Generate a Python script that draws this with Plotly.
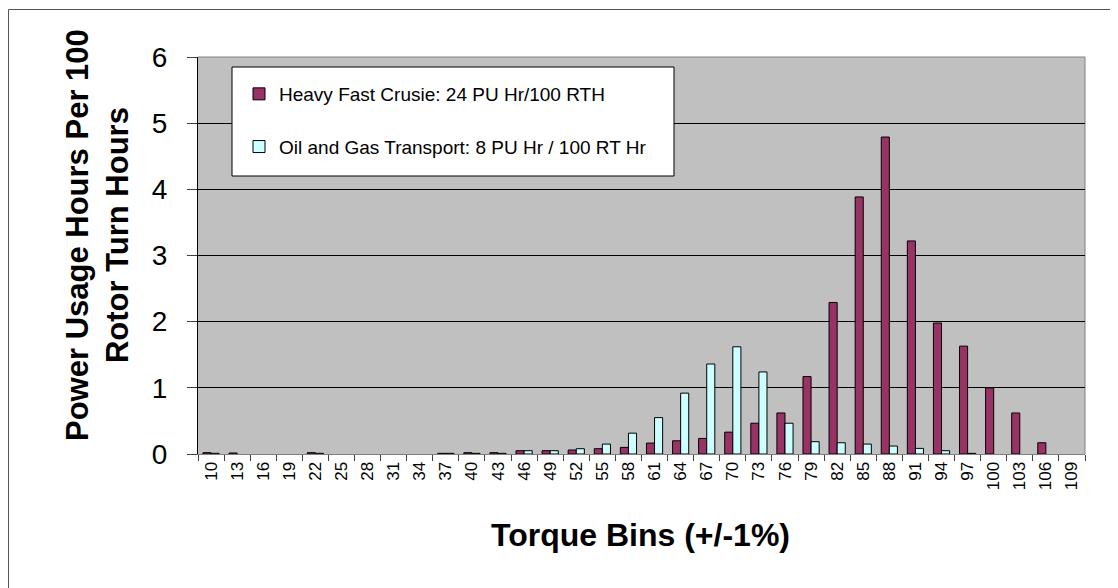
import plotly.graph_objects as go

# ---- data ----
bins = ["10", "13", "16", "19", "22", "25", "28", "31", "34", "37", "40", "43",
        "46", "49", "52", "55", "58", "61", "64", "67", "70", "73", "76", "79",
        "82", "85", "88", "91", "94", "97", "100", "103", "106", "109"]

heavy_name = "Heavy Fast Crusie: 24 PU Hr/100 RTH"
heavy = [0.02, 0.015, None, None, 0.02, None, None, None, None, 0.01, 0.02, 0.02,
         0.05, 0.05, 0.06, 0.08, 0.10, 0.165, 0.20, 0.235, 0.33, 0.465, 0.62, 1.17,
         2.29, 3.885, 4.79, 3.22, 1.98, 1.63, 1.00, 0.62, 0.17, None]

oil_name = "Oil and Gas Transport: 8 PU Hr / 100 RT Hr"
oil = [0.01, None, None, None, 0.01, None, None, None, None, 0.01, 0.01, 0.01,
       0.05, 0.05, 0.08, 0.15, 0.315, 0.55, 0.92, 1.36, 1.62, 1.24, 0.465, 0.186,
       0.17, 0.15, 0.12, 0.085, 0.05, 0.01, None, None, None, None]

y_ticks = [0, 1, 2, 3, 4, 5, 6]

FONT = "Liberation Sans, Arial, sans-serif"

fig = go.Figure()
fig.add_bar(x=bins, y=heavy, name=heavy_name, legendgroup="a",
            marker=dict(color="#993366", line=dict(color="black", width=1)))
fig.add_bar(x=bins, y=oil, name=oil_name, legendgroup="b",
            marker=dict(color="#CCFFFF", line=dict(color="black", width=1)))

OFF = 8  # page body margin
W, H = 1118 - OFF, 588 - OFF
L, R, T, B = 198 - OFF, 33, 57 - OFF, 134
pw, ph = W - L - R, H - T - B


def px(x):  # page pixel -> paper
    return (x - OFF - L) / pw


def py(y):
    return (H + OFF - B - y) / ph


fig.update_layout(
    width=W, height=H,
    margin=dict(l=L, r=R, t=T, b=B, autoexpand=False),
    paper_bgcolor="white",
    plot_bgcolor="#C0C0C0",
    barmode="group",
    bargap=0.38,
    bargroupgap=0,
    font=dict(family=FONT, color="black"),
    showlegend=True,
    legend=dict(x=px(239), y=py(75), xanchor="left", yanchor="top",
                bgcolor="rgba(0,0,0,0)", borderwidth=0,
                font=dict(size=19, family=FONT, color="black"),
                tracegroupgap=25, traceorder="grouped"),
    xaxis=dict(type="category", tickangle=-90, tickfont=dict(size=17),
               ticks="outside", ticklen=6, tickcolor="#404040",
               tickson="boundaries", showline=True, linecolor="#808080",
               linewidth=1, showgrid=False, zeroline=False, fixedrange=True),
    yaxis=dict(range=[0, 6], tickvals=y_ticks, tickfont=dict(size=28),
               ticks="outside", ticklen=10, tickcolor="#404040",
               ticklabelstandoff=14,
               showgrid=True, gridcolor="black", gridwidth=1,
               showline=True, linecolor="black", linewidth=1,
               zeroline=False, fixedrange=True),
    shapes=[
        # plot area top/right border
        dict(type="line", xref="paper", yref="paper", x0=0, x1=1, y0=1, y1=1,
             line=dict(color="#808080", width=1), layer="below"),
        dict(type="line", xref="paper", yref="paper", x0=1, x1=1, y0=0, y1=1,
             line=dict(color="#808080", width=1), layer="below"),
        # legend box
        dict(type="rect", xref="paper", yref="paper",
             x0=px(232), x1=px(674), y0=py(176), y1=py(67),
             fillcolor="white", line=dict(color="black", width=1), layer="above"),
        # chart-area outer border (top and left visible)
        dict(type="line", xref="paper", yref="paper",
             x0=px(8.5), x1=px(1140), y0=py(9.5), y1=py(9.5),
             line=dict(color="#555555", width=1)),
        dict(type="line", xref="paper", yref="paper",
             x0=px(8.5), x1=px(8.5), y0=py(9.5), y1=py(620),
             line=dict(color="#555555", width=1)),
    ],
    annotations=[
        dict(text="<b>Power Usage Hours Per 100<br>Rotor Turn Hours</b>",
             xref="paper", yref="paper", x=px(97), y=py(235),
             xanchor="center", yanchor="middle", textangle=-90,
             showarrow=False, font=dict(size=31, family=FONT, color="black")),
        dict(text="<b>Torque Bins (+/-1%)</b>",
             xref="paper", yref="paper", x=px(640), y=py(535),
             xanchor="center", yanchor="middle",
             showarrow=False, font=dict(size=32, family=FONT, color="black")),
    ],
)

fig.write_html("out.html")
